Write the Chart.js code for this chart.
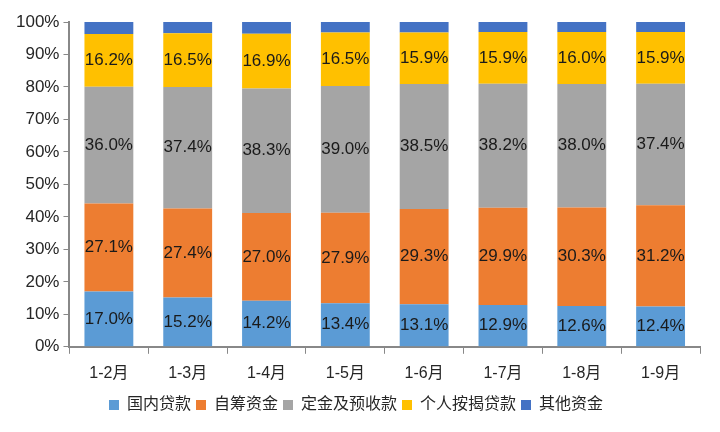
<!DOCTYPE html>
<html><head><meta charset="utf-8">
<script src="https://cdn.jsdelivr.net/npm/chart.js@4/dist/chart.umd.min.js"></script>
<style>html,body{margin:0;padding:0;background:#fff}#wrap{width:720px;height:432px}</style>
</head><body><div id="wrap"><canvas id="c" width="720" height="432"></canvas></div>
<script>
const categories = ['1-2月','1-3月','1-4月','1-5月','1-6月','1-7月','1-8月','1-9月'];
const domesticLoans = [17.0,15.2,14.2,13.4,13.1,12.9,12.6,12.4];
const selfRaised = [27.1,27.4,27.0,27.9,29.3,29.9,30.3,31.2];
const deposits = [36.0,37.4,38.3,39.0,38.5,38.2,38.0,37.4];
const mortgages = [16.2,16.5,16.9,16.5,15.9,15.9,16.0,15.9];
const otherFunds = [3.7,3.5,3.6,3.2,3.2,3.1,3.1,3.1];
const yTicks = [0,10,20,30,40,50,60,70,80,90,100];

const FONT = '"Liberation Sans","Noto Sans CJK SC",sans-serif';
const labelPlugin = {
  id:'labels',
  afterDatasetsDraw(chart){
    const ctx = chart.ctx;
    ctx.save();
    ctx.font = '17px ' + FONT;
    ctx.fillStyle = '#1a1a1a';
    ctx.textAlign = 'center';
    ctx.textBaseline = 'middle';
    chart.data.datasets.forEach((ds,i)=>{
      if(!ds.showLabel) return;
      const meta = chart.getDatasetMeta(i);
      meta.data.forEach((bar,j)=>{
        const y = (bar.y + bar.base)/2;
        ctx.fillText(ds.data[j].toFixed(1)+'%', bar.x, y);
      });
    });
    ctx.restore();
  }
};

new Chart(document.getElementById('c'),{
  type:'bar',
  data:{
    labels:categories,
    datasets:[
      {label:'国内贷款',data:domesticLoans,backgroundColor:'#5B9BD5',showLabel:true},
      {label:'自筹资金',data:selfRaised,backgroundColor:'#ED7D31',showLabel:true},
      {label:'定金及预收款',data:deposits,backgroundColor:'#A5A5A5',showLabel:true},
      {label:'个人按揭贷款',data:mortgages,backgroundColor:'#FFC000',showLabel:true},
      {label:'其他资金',data:otherFunds,backgroundColor:'#4472C4',showLabel:false}
    ]
  },
  options:{
    responsive:false,
    animation:false,
    devicePixelRatio:1,
    layout:{padding:{left:12,right:20,top:22,bottom:9}},
    datasets:{bar:{categoryPercentage:0.62,barPercentage:1}},
    plugins:{
      legend:{position:'bottom',labels:{boxWidth:10,boxHeight:10,padding:5,color:'#262626',font:{family:FONT,size:16}}},
      tooltip:{enabled:false}
    },
    scales:{
      x:{stacked:true,
        afterFit(s){s.height -= 1;},
        grid:{display:true,drawOnChartArea:false,drawTicks:true,tickLength:7,color:'#888',offset:true},
        border:{display:true,color:'#888',width:2},
        ticks:{color:'#262626',font:{family:FONT,size:16},padding:10}},
      y:{stacked:true,min:0,max:100,
        afterBuildTicks(ax){ax.ticks = yTicks.map(v=>({value:v}));},
        grid:{display:true,drawOnChartArea:false,drawTicks:true,tickLength:6,color:'#888'},
        border:{display:true,color:'#888',width:2},
        ticks:{color:'#262626',font:{family:FONT,size:17},padding:4,callback:v=>v+'%'}}
    }
  },
  plugins:[labelPlugin]
});
</script></body></html>
